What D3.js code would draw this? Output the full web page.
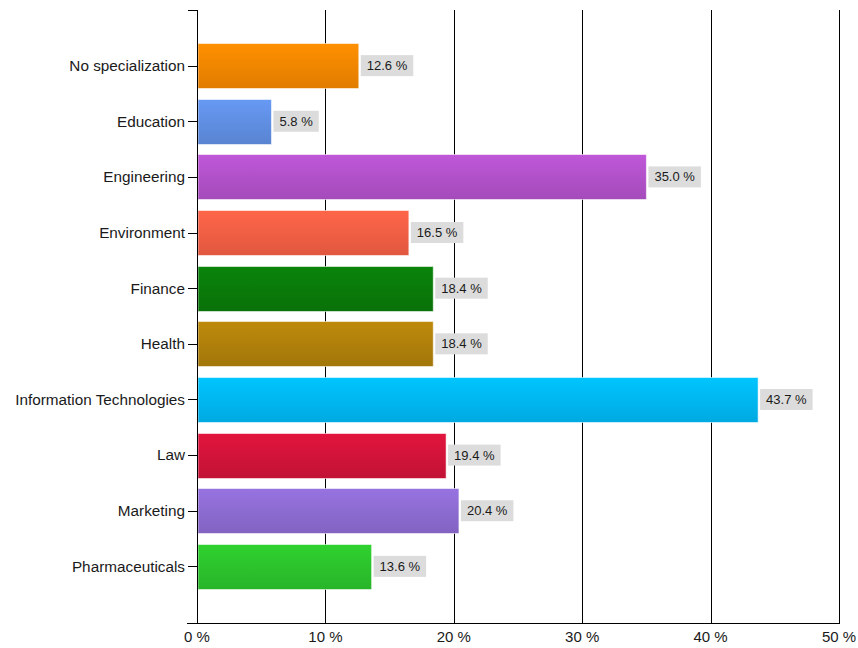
<!DOCTYPE html>
<html>
<head>
<meta charset="utf-8">
<script src="https://cdn.jsdelivr.net/npm/d3@7"></script>
<style>
  html, body { margin: 0; padding: 0; background: #ffffff; }
  svg { display: block; font-family: "Liberation Sans", Arial, sans-serif; }
</style>
</head>
<body>
<svg id="chart" width="858" height="648"></svg>
<script>
// Share of job offers by specialization (percent)
const categories = [
  "No specialization", "Education", "Engineering", "Environment", "Finance",
  "Health", "Information Technologies", "Law", "Marketing", "Pharmaceuticals"
];
const values = [12.6, 5.8, 35.0, 16.5, 18.4, 18.4, 43.7, 19.4, 20.4, 13.6];
const barColors = [
  "#FF8C00", "#6495ED", "#BA55D3", "#FF6347", "#0A800A",
  "#B8860B", "#00BFFF", "#DC143C", "#9370DB", "#2ECC2E"
];
const tickValues = [0, 10, 20, 30, 40, 50];

const svg = d3.select("#chart");
const plotLeft = 197, plotRight = 839, plotTop = 10, plotBottom = 623;
const barH = 45;

const x = d3.scaleLinear().domain([0, 50]).range([plotLeft, plotRight]);
const y = d3.scalePoint().domain(categories).range([plotTop, plotBottom - 1]).padding(1);

// gradients: lighter at top, darker at bottom
const defs = svg.append("defs");
barColors.forEach((c, i) => {
  const g = defs.append("linearGradient")
    .attr("id", "grad" + i).attr("x1", 0).attr("y1", 0).attr("x2", 0).attr("y2", 1);
  g.append("stop").attr("offset", "0%").attr("stop-color", d3.color(c).brighter(0.08));
  g.append("stop").attr("offset", "100%").attr("stop-color", d3.color(c).darker(0.35));
});

// vertical grid lines
svg.append("g").selectAll("line").data(tickValues.slice(1)).join("line")
  .attr("x1", d => Math.round(x(d)) + 0.5).attr("x2", d => Math.round(x(d)) + 0.5)
  .attr("y1", plotTop).attr("y2", plotBottom)
  .attr("stroke", "#000").attr("stroke-width", 1);

// bars
svg.append("g").selectAll("rect").data(values).join("rect")
  .attr("x", plotLeft + 1)
  .attr("y", (d, i) => Math.round(y(categories[i]) - barH / 2) + 0.5)
  .attr("width", d => x(d) - plotLeft - 1)
  .attr("height", barH)
  .attr("fill", (d, i) => `url(#grad${i})`)
  .attr("stroke", "rgba(255,255,255,0.55)")
  .attr("stroke-width", 1);

// value labels with grey boxes
const lab = svg.append("g").selectAll("g").data(values).join("g")
  .attr("transform", (d, i) => `translate(${x(d) + 2},${y(categories[i])})`);
lab.append("text")
  .attr("x", 6).attr("dy", "0.35em")
  .attr("font-size", 13).attr("fill", "#1a1a1a")
  .text(d => d.toFixed(1) + " %");
lab.insert("rect", "text")
  .attr("x", 0).attr("y", -10.5).attr("height", 21)
  .attr("width", function() { return this.parentNode.querySelector("text").getComputedTextLength() + 12; })
  .attr("fill", "#dcdcdc");

// x axis
const xAxis = svg.append("g").attr("transform", `translate(0,${plotBottom})`);
xAxis.append("line").attr("x1", 187).attr("x2", plotRight + 1).attr("y1", 0.5).attr("y2", 0.5)
  .attr("stroke", "#000");
xAxis.selectAll("text").data(tickValues).join("text")
  .attr("x", d => x(d)).attr("y", 19)
  .attr("text-anchor", "middle").attr("font-size", 15).attr("fill", "#1a1a1a")
  .text(d => d + " %");

// y axis
const yAxis = svg.append("g");
yAxis.append("line").attr("x1", plotLeft + 0.5).attr("x2", plotLeft + 0.5)
  .attr("y1", plotTop).attr("y2", plotBottom).attr("stroke", "#000");
yAxis.append("line").attr("x1", 188).attr("x2", plotLeft).attr("y1", plotTop + 0.5).attr("y2", plotTop + 0.5)
  .attr("stroke", "#000");
yAxis.selectAll("line.tick").data(categories).join("line").attr("class", "tick")
  .attr("x1", 188).attr("x2", plotLeft)
  .attr("y1", d => Math.round(y(d)) + 0.5).attr("y2", d => Math.round(y(d)) + 0.5)
  .attr("stroke", "#000");
yAxis.selectAll("text").data(categories).join("text")
  .attr("x", 185).attr("y", d => y(d)).attr("dy", "0.35em")
  .attr("text-anchor", "end").attr("font-size", 15.3).attr("fill", "#1a1a1a")
  .text(d => d);
</script>
</body>
</html>
